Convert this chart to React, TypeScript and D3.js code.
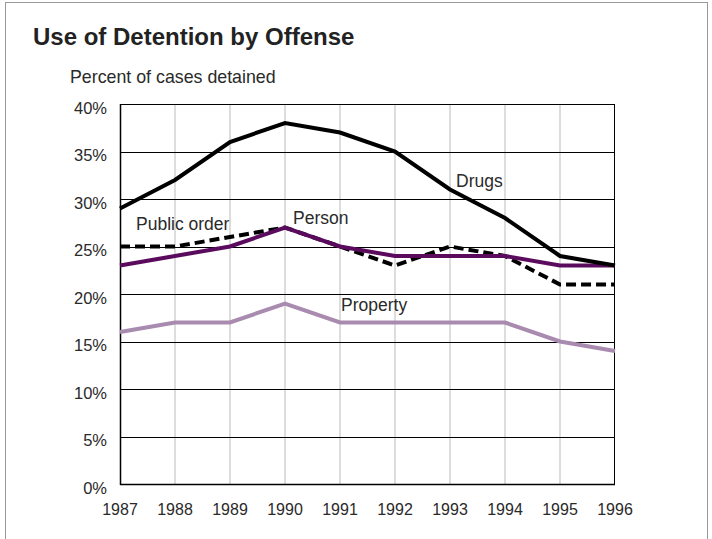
import React from 'react';
import * as d3 from 'd3';

const years = [1987, 1988, 1989, 1990, 1991, 1992, 1993, 1994, 1995, 1996];
const drugs = [29, 32, 36, 38, 37, 35, 31, 28, 24, 23];
const publicOrder = [25, 25, 26, 27, 25, 23, 25, 24, 21, 21];
const person = [23, 24, 25, 27, 25, 24, 24, 24, 23, 23];
const property = [16, 17, 17, 19, 17, 17, 17, 17, 15, 14];
const yTicks = [0, 5, 10, 15, 20, 25, 30, 35, 40];

const W = 712;
const H = 539;
const margin = { top: 104, right: 97, bottom: 55, left: 120 };
const font = "'Liberation Sans', Arial, Helvetica, sans-serif";
const textColor = '#2a2a2a';

const App: React.FC = () => {
  const x = d3.scaleLinear().domain([1987, 1996]).range([margin.left, W - margin.right]);
  const y = d3.scaleLinear().domain([0, 40]).range([H - margin.bottom, margin.top]);

  const line = d3.line<number>()
    .x((_, i) => x(years[i]))
    .y(d => y(d));

  const series = [
    { name: 'Property', values: property, color: '#a98bb0', dash: undefined, lx: 341, ly: 311 },
    { name: 'Public order', values: publicOrder, color: '#000', dash: '10,5', lx: 136, ly: 230 },
    { name: 'Person', values: person, color: '#5b0b5e', dash: undefined, lx: 293, ly: 224 },
    { name: 'Drugs', values: drugs, color: '#000', dash: undefined, lx: 456, ly: 187 },
  ];

  const x0 = x(1987), x1 = x(1996), yTop = y(40), yBot = y(0);

  return (
    <svg width={W} height={H} style={{ position: 'absolute', left: 0, top: 0 }}>
      <rect x={0} y={0} width={W} height={H} fill="#fff" />
      <rect x={5.5} y={2.5} width={702} height={560} fill="none" stroke="#999" strokeWidth={1} />
      <text x={33} y={45} fontFamily={font} fontWeight="bold" fontSize={24} fill="#222">
        Use of Detention by Offense
      </text>
      <text x={70} y={83} fontFamily={font} fontSize={17.8} fill={textColor}>
        Percent of cases detained
      </text>

      {/* vertical gridlines */}
      {years.slice(1, -1).map(yr => (
        <line key={yr} x1={x(yr)} x2={x(yr)} y1={yTop} y2={yBot} stroke="#bbb" strokeWidth={1} />
      ))}
      {/* horizontal gridlines */}
      {yTicks.map(t => (
        <line key={t} x1={x0} x2={x1} y1={Math.round(y(t)) + 0.5} y2={Math.round(y(t)) + 0.5} stroke="#000" strokeWidth={1} />
      ))}
      <line x1={x0 + 0.5} x2={x0 + 0.5} y1={yTop} y2={yBot + 1} stroke="#000" strokeWidth={1.5} />
      <line x1={x1 - 0.5} x2={x1 - 0.5} y1={yTop} y2={yBot + 1} stroke="#000" strokeWidth={1} />
      <line x1={x0} x2={x1} y1={Math.round(yBot) + 0.5} y2={Math.round(yBot) + 0.5} stroke="#000" strokeWidth={1.5} />

      {/* y tick labels */}
      {yTicks.map(t => (
        <text key={t} x={107} y={y(t) + 9.5} textAnchor="end" fontFamily={font} fontSize={16.5} fill={textColor}>
          {t}%
        </text>
      ))}
      {/* x tick labels */}
      {years.map(yr => (
        <text key={yr} x={x(yr)} y={515} textAnchor="middle" fontFamily={font} fontSize={16} fill={textColor}>
          {yr}
        </text>
      ))}

      {series.map(s => (
        <path key={s.name} d={line(s.values) || ''} fill="none" stroke={s.color} strokeWidth={4}
          strokeDasharray={s.dash} strokeLinejoin="miter" />
      ))}
      {series.map(s => (
        <text key={s.name + 'l'} x={s.lx} y={s.ly} fontFamily={font} fontSize={17.5} fill={textColor}>
          {s.name}
        </text>
      ))}
    </svg>
  );
};

export default App;
